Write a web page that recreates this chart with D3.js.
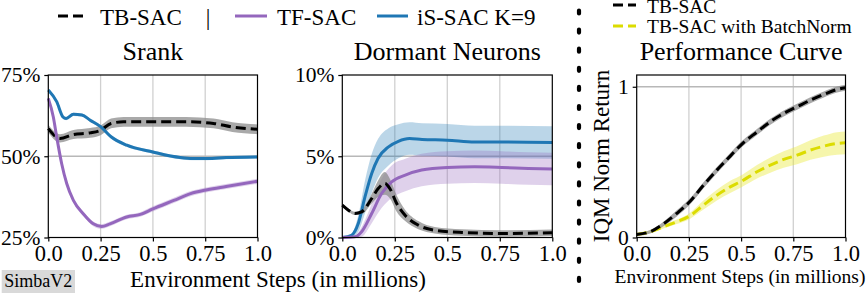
<!DOCTYPE html>
<html><head><meta charset="utf-8">
<script src="https://cdn.jsdelivr.net/npm/d3@7"></script>
<style>body{margin:0;background:#fff}svg{display:block}</style>
</head><body><svg id="c" width="868" height="293"></svg>
<script>
// ---------- DATA ----------
const xTicks = [0, 0.25, 0.5, 0.75, 1.0];
const xTickLabels = ["0.0", "0.25", "0.5", "0.75", "1.0"];
const legendTop = ["TB-SAC", "|", "TF-SAC", "iS-SAC K=9"];
const legendRight = ["TB-SAC", "TB-SAC with BatchNorm"];
const titles = ["Srank", "Dormant Neurons", "Performance Curve"];

// Srank (%)
const srankX_TB = [0, 0.056, 0.12, 0.2, 0.25, 0.30, 0.36, 0.5, 0.66, 0.79, 0.88, 1.0];
const srankTB   = [58.5, 55.5, 56.7, 57.2, 58.0, 60.1, 60.6, 60.6, 60.6, 60.1, 59.0, 58.3];
const srankTB_err = [1.2, 1.3, 1.4, 1.5, 1.5, 1.5, 1.5, 1.5, 1.5, 1.5, 1.5, 1.5];
const srankX_IS = [0, 0.04, 0.07, 0.085, 0.12, 0.16, 0.2, 0.25, 0.30, 0.375, 0.5, 0.63, 0.69, 0.76, 0.85, 1.0];
const srankIS   = [70.4, 66.8, 62.1, 61.6, 62.9, 62.7, 61.1, 59.1, 56.0, 53.4, 51.3, 49.6, 49.3, 49.3, 49.6, 49.8];
const srankIS_err = [0.3, 0.4, 0.5, 0.5, 0.5, 0.5, 0.5, 0.5, 0.5, 0.5, 0.5, 0.5, 0.5, 0.5, 0.5, 0.5];
const srankX_TF = [0, 0.024, 0.04, 0.064, 0.088, 0.12, 0.167, 0.215, 0.255, 0.295, 0.375, 0.44, 0.5, 0.6, 0.68, 0.76, 0.85, 1.0];
const srankTF   = [67.8, 62.1, 56.0, 47.7, 41.6, 36.4, 32.3, 29.2, 28.4, 29.2, 31.3, 32.1, 33.8, 36.4, 38.5, 39.7, 40.7, 42.3];
const srankTF_err = [0.3, 0.4, 0.5, 0.6, 0.6, 0.7, 0.7, 0.7, 0.7, 0.7, 0.7, 0.7, 0.8, 0.8, 0.8, 0.8, 0.8, 0.8];

// Dormant Neurons (%)
const dormX_IS = [0, 0.044, 0.076, 0.108, 0.14, 0.17, 0.22, 0.267, 0.32, 0.38, 0.5, 0.63, 0.76, 1.0];
const dormIS   = [0, 0.14, 0.86, 2.5, 3.94, 4.86, 5.58, 5.92, 6.09, 6.03, 5.99, 5.88, 5.88, 5.85];
const dormIS_err = [0, 0.1, 0.5, 1.0, 1.2, 1.2, 1.15, 1.05, 1.0, 1.0, 1.0, 1.0, 1.0, 1.0];
const dormX_TF = [0, 0.06, 0.092, 0.14, 0.187, 0.235, 0.3, 0.378, 0.5, 0.63, 0.76, 0.886, 1.0];
const dormTF   = [0, 0.04, 0.35, 1.48, 2.71, 3.43, 3.84, 4.15, 4.31, 4.35, 4.31, 4.25, 4.21];
const dormTF_err = [0, 0.05, 0.3, 0.6, 0.9, 1.0, 1.0, 1.0, 1.0, 1.0, 1.0, 1.0, 1.0];
const dormX_TB = [0, 0.029, 0.06, 0.092, 0.14, 0.17, 0.203, 0.227, 0.259, 0.298, 0.362, 0.44, 0.57, 0.76, 1.0];
const dormTB   = [1.99, 1.68, 1.48, 1.58, 2.4, 3.0, 3.33, 3.0, 2.09, 1.38, 0.76, 0.45, 0.31, 0.25, 0.29];
const dormTB_err = [0.1, 0.1, 0.1, 0.15, 0.3, 0.5, 0.7, 0.6, 0.5, 0.35, 0.25, 0.2, 0.2, 0.2, 0.2];

// Performance curve (IQM normalized return)
const perfX  = [0, 0.064, 0.128, 0.192, 0.256, 0.32, 0.384, 0.448, 0.504, 0.576, 0.64, 0.704, 0.768, 0.832, 0.896, 0.96, 1.0];
const perfTB = [0.02, 0.038, 0.09, 0.16, 0.24, 0.347, 0.447, 0.54, 0.62, 0.70, 0.768, 0.823, 0.867, 0.911, 0.949, 0.982, 0.993];
const perfTB_err = [0.01, 0.012, 0.015, 0.02, 0.02, 0.02, 0.02, 0.02, 0.02, 0.02, 0.02, 0.02, 0.02, 0.02, 0.02, 0.02, 0.02];
const perfBN = [0.02, 0.038, 0.071, 0.104, 0.145, 0.215, 0.281, 0.336, 0.375, 0.436, 0.48, 0.518, 0.546, 0.58, 0.606, 0.624, 0.628];
const perfBN_err = [0.005, 0.008, 0.012, 0.015, 0.02, 0.03, 0.035, 0.04, 0.04, 0.045, 0.05, 0.055, 0.06, 0.065, 0.07, 0.075, 0.075];

// ---------- STYLE ----------
const FONT = "Liberation Serif";
const C_TB = "#000000", C_TF = "#9467bd", C_IS = "#1f77b4", C_BN = "#dcdc00";
const svg = d3.select("#c");

function panel(cfg) {
  const x = d3.scaleLinear().domain([0, 1]).range([cfg.x0, cfg.x1]);
  const y = d3.scaleLinear().domain(cfg.yDomain).range([237.5, 75]);
  const g = svg.append("g");
  xTicks.slice(1, -1).forEach(t => g.append("line").attr("x1", x(t)).attr("x2", x(t))
    .attr("y1", 75).attr("y2", 237.5).attr("stroke", "#d0d0d0").attr("stroke-width", 1.3));
  cfg.hGrid.forEach(t => g.append("line").attr("x1", cfg.x0).attr("x2", cfg.x1)
    .attr("y1", y(t)).attr("y2", y(t)).attr("stroke", "#b8b8b8").attr("stroke-width", 1.3));
  cfg.series.forEach(s => {
    const pts = s.x.map((v, i) => ({x: v, y: s.y[i], e: s.e[i]}));
    g.append("path").datum(pts).attr("fill", s.band).attr("opacity", s.bandOp)
      .attr("d", d3.area().x(d => x(d.x)).y0(d => y(d.y - d.e)).y1(d => y(d.y + d.e)).curve(d3.curveMonotoneX));
  });
  cfg.series.forEach(s => {
    const pts = s.x.map((v, i) => ({x: v, y: s.y[i]}));
    g.append("path").datum(pts).attr("fill", "none").attr("stroke", s.color).attr("stroke-width", 3)
      .attr("stroke-dasharray", s.dash || null)
      .attr("d", d3.line().x(d => x(d.x)).y(d => y(d.y)).curve(d3.curveMonotoneX));
  });
  g.append("rect").attr("x", cfg.x0).attr("y", 75).attr("width", cfg.x1 - cfg.x0).attr("height", 162.5)
    .attr("fill", "none").attr("stroke", "#000").attr("stroke-width", 1.2);
  const ax = g.append("g").attr("transform", `translate(0,237.5)`)
    .call(d3.axisBottom(x).tickValues(xTicks).tickFormat((d, i) => xTickLabels[i]).tickSize(4).tickSizeOuter(0).tickPadding(4));
  const ay = g.append("g").attr("transform", `translate(${cfg.x0},0)`)
    .call(d3.axisLeft(y).tickValues(cfg.yTicks).tickFormat((d, i) => cfg.yLabels[i]).tickSize(4).tickSizeOuter(0).tickPadding(4));
  [ax, ay].forEach(a => {
    a.select(".domain").remove();
    a.attr("font-family", null).attr("font-size", null);
    a.selectAll("text").attr("fill", "#000");
    a.selectAll("line").attr("stroke", "#000").attr("stroke-width", 1.2);
  });
  ax.selectAll("text").attr("font-size", 22.5);
  ay.selectAll("text").attr("font-size", 21.5);
  svg.append("text").attr("x", (cfg.x0 + cfg.x1) / 2).attr("y", 60).attr("text-anchor", "middle")
    .attr("font-size", 26).text(cfg.title);
}

panel({x0: 48.3, x1: 257.5, yDomain: [25, 75], yTicks: [25, 50, 75], yLabels: ["25%", "50%", "75%"], hGrid: [50],
  title: titles[0], series: [
    {x: srankX_TB, y: srankTB, e: srankTB_err, color: C_TB, band: "#8c8c8c", bandOp: 0.75, dash: "10,5"},
    {x: srankX_TF, y: srankTF, e: srankTF_err, color: C_TF, band: C_TF, bandOp: 0.3},
    {x: srankX_IS, y: srankIS, e: srankIS_err, color: C_IS, band: C_IS, bandOp: 0.3}
  ]});
panel({x0: 342.3, x1: 552.3, yDomain: [0, 10], yTicks: [0, 5, 10], yLabels: ["0%", "5%", "10%"], hGrid: [5],
  title: titles[1], series: [
    {x: dormX_IS, y: dormIS, e: dormIS_err, color: C_IS, band: C_IS, bandOp: 0.3},
    {x: dormX_TF, y: dormTF, e: dormTF_err, color: C_TF, band: C_TF, bandOp: 0.3},
    {x: dormX_TB, y: dormTB, e: dormTB_err, color: C_TB, band: "#8c8c8c", bandOp: 0.75, dash: "10,5"}
  ]});
panel({x0: 636.7, x1: 845.5, yDomain: [0, 1.078], yTicks: [0, 1], yLabels: ["0", "1"], hGrid: [1],
  title: titles[2], series: [
    {x: perfX, y: perfBN, e: perfBN_err, color: C_BN, band: "#e8e830", bandOp: 0.4, dash: "10,5"},
    {x: perfX, y: perfTB, e: perfTB_err, color: C_TB, band: "#8c8c8c", bandOp: 0.75, dash: "10,5"}
  ]});

svg.append("text").attr("x", 278).attr("y", 286.5).attr("text-anchor", "middle").attr("font-size", 23)
  .text("Environment Steps (in millions)");
svg.append("text").attr("x", 740).attr("y", 283).attr("text-anchor", "middle").attr("font-size", 19.5)
  .text("Environment Steps (in millions)");
svg.append("text").attr("transform", "translate(609,156) rotate(-90)").attr("text-anchor", "middle")
  .attr("font-size", 23).text("IQM Norm Return");

const lg = svg.append("g");
lg.append("line").attr("x1", 58).attr("x2", 84).attr("y1", 16).attr("y2", 16).attr("stroke", C_TB)
  .attr("stroke-width", 3).attr("stroke-dasharray", "10,5");
lg.append("text").attr("x", 100).attr("y", 25).attr("font-size", 23).text(legendTop[0]);
lg.append("text").attr("x", 208).attr("y", 25).attr("font-size", 23).attr("text-anchor", "middle").text(legendTop[1]);
lg.append("line").attr("x1", 235).attr("x2", 267).attr("y1", 16).attr("y2", 16).attr("stroke", C_TF).attr("stroke-width", 3);
lg.append("text").attr("x", 277).attr("y", 25).attr("font-size", 23).text(legendTop[2]);
lg.append("line").attr("x1", 377).attr("x2", 408).attr("y1", 16).attr("y2", 16).attr("stroke", C_IS).attr("stroke-width", 3);
lg.append("text").attr("x", 417).attr("y", 25).attr("font-size", 23).text(legendTop[3]);

const rg = svg.append("g");
rg.append("line").attr("x1", 613).attr("x2", 636).attr("y1", 5).attr("y2", 5).attr("stroke", C_TB)
  .attr("stroke-width", 3).attr("stroke-dasharray", "10,5");
rg.append("text").attr("x", 647).attr("y", 13).attr("font-size", 19.5).text(legendRight[0]);
rg.append("line").attr("x1", 613).attr("x2", 636).attr("y1", 26).attr("y2", 26).attr("stroke", C_BN)
  .attr("stroke-width", 3).attr("stroke-dasharray", "10,5");
rg.append("text").attr("x", 647).attr("y", 33).attr("font-size", 19.5).text(legendRight[1]);

svg.append("line").attr("x1", 579).attr("x2", 579).attr("y1", 10.5).attr("y2", 293)
  .attr("stroke", "#000").attr("stroke-width", 4.2).attr("stroke-linecap", "round").attr("stroke-dasharray", "3,16.1");

svg.append("rect").attr("x", 1.7).attr("y", 270).attr("width", 73.3).attr("height", 23).attr("fill", "#d9d9d9");
svg.append("text").attr("x", 38.3).attr("y", 286.7).attr("text-anchor", "middle").attr("font-size", 18).text("SimbaV2");

svg.selectAll("text").style("font-family", FONT).style("fill", "#000");
</script></body></html>
